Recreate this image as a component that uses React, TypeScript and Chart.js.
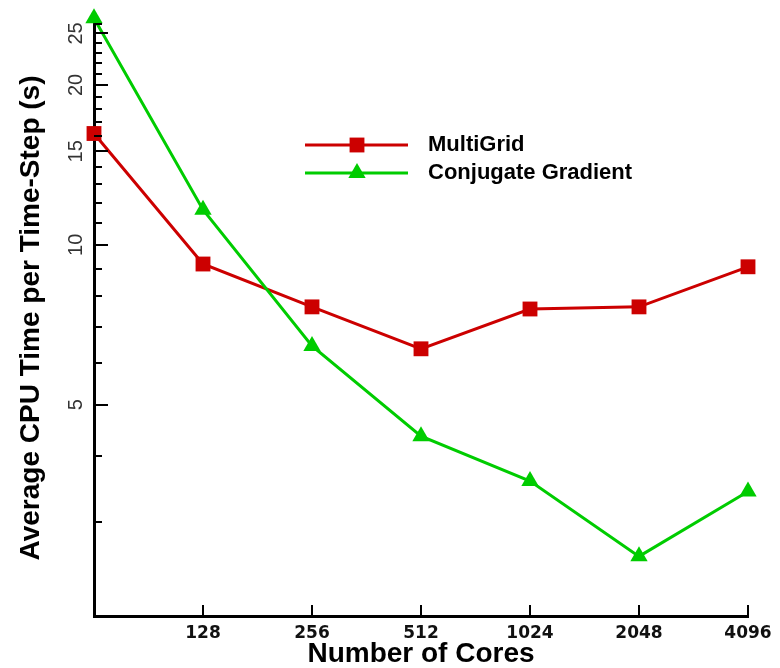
import React, { useEffect, useRef } from 'react';
import { Chart, registerables } from 'chart.js';

Chart.register(...registerables);

const cores = [64, 128, 256, 512, 1024, 2048, 4096];
const multiGrid = [16.2, 9.2, 7.64, 6.37, 7.57, 7.64, 9.09];
const conjugateGradient = [26.7, 11.64, 6.45, 4.36, 3.59, 2.59, 3.43];
const seriesNames = ['MultiGrid', 'Conjugate Gradient'];
const seriesColors = ['#cc0000', '#00cc00'];
const xTickValues = [128, 256, 512, 1024, 2048, 4096];
const yMajorTicks = [5, 10, 15, 20, 25];
const yMinorTicks = [3, 4, 6, 7, 8, 9, 11, 12, 13, 14, 16, 17, 18, 19, 21, 22, 23, 24, 26];
const xTitle = 'Number of Cores';
const yTitle = 'Average CPU Time per Time-Step (s)';

const tickMarkPlugin = {
  id: 'inwardTicks',
  afterDraw(chart: any) {
    const ctx = chart.ctx;
    const xs = chart.scales.x;
    const ys = chart.scales.y;
    const { left, bottom } = chart.chartArea;
    ctx.save();
    ctx.strokeStyle = '#000';
    ctx.lineWidth = 2;
    ctx.beginPath();
    yMinorTicks.forEach((v) => {
      const py = Math.round(ys.getPixelForValue(v));
      ctx.moveTo(left, py);
      ctx.lineTo(left + 8, py);
    });
    yMajorTicks.forEach((v) => {
      const py = Math.round(ys.getPixelForValue(v));
      ctx.moveTo(left, py);
      ctx.lineTo(left + 14, py);
    });
    xTickValues.forEach((v) => {
      const px = Math.round(xs.getPixelForValue(v));
      ctx.moveTo(px, bottom);
      ctx.lineTo(px, bottom - 11);
    });
    ctx.stroke();
    ctx.restore();
  },
};

const legendPlugin = {
  id: 'inlineLegend',
  afterDraw(chart: any) {
    const ctx = chart.ctx;
    const rows = [145, 173];
    ctx.save();
    chart.data.datasets.forEach((ds: any, i: number) => {
      const y = rows[i];
      ctx.strokeStyle = ds.borderColor;
      ctx.lineWidth = 3;
      ctx.beginPath();
      ctx.moveTo(305, y);
      ctx.lineTo(408, y);
      ctx.stroke();
      ctx.fillStyle = ds.pointBackgroundColor;
      ctx.beginPath();
      const cx = 357;
      if (ds.pointStyle === 'rect') {
        const s = Math.SQRT1_2 * ds.pointRadius;
        ctx.rect(cx - s, y - s, 2 * s, 2 * s);
      } else {
        const r = ds.pointRadius;
        let rad = 0;
        ctx.moveTo(cx + Math.sin(rad) * r, y - Math.cos(rad) * r);
        rad += (2 * Math.PI) / 3;
        ctx.lineTo(cx + Math.sin(rad) * r, y - Math.cos(rad) * r);
        rad += (2 * Math.PI) / 3;
        ctx.lineTo(cx + Math.sin(rad) * r, y - Math.cos(rad) * r);
        ctx.closePath();
      }
      ctx.fill();
      ctx.fillStyle = '#000';
      ctx.font = 'bold 22px "Liberation Sans", Arial, sans-serif';
      ctx.textBaseline = 'middle';
      ctx.textAlign = 'left';
      ctx.fillText(ds.label, 428, y);
    });
    ctx.restore();
  },
};

export default function App() {
  const ref = useRef<HTMLCanvasElement | null>(null);

  useEffect(() => {
    document.body.style.margin = '0';
    if (!ref.current) return;
    const chart = new Chart(ref.current, {
      type: 'line',
      data: {
        datasets: [
          {
            label: seriesNames[0],
            data: cores.map((c, i) => ({ x: c, y: multiGrid[i] })),
            borderColor: seriesColors[0],
            backgroundColor: seriesColors[0],
            pointBackgroundColor: seriesColors[0],
            pointBorderColor: seriesColors[0],
            pointBorderWidth: 0,
            borderWidth: 3,
            pointStyle: 'rect',
            pointRadius: 10.5,
            tension: 0,
            clip: false,
            order: 1,
          } as any,
          {
            label: seriesNames[1],
            data: cores.map((c, i) => ({ x: c, y: conjugateGradient[i] })),
            borderColor: seriesColors[1],
            backgroundColor: seriesColors[1],
            pointBackgroundColor: seriesColors[1],
            pointBorderColor: seriesColors[1],
            pointBorderWidth: 0,
            borderWidth: 3,
            pointStyle: 'triangle',
            pointRadius: 10,
            tension: 0,
            clip: false,
            order: 0,
          } as any,
        ],
      },
      options: {
        animation: false,
        responsive: false,
        devicePixelRatio: 1,
        events: [],
        layout: { padding: { left: 0, right: 32, top: 20, bottom: 0 } },
        plugins: {
          legend: { display: false },
          tooltip: { enabled: false },
        },
        scales: {
          x: {
            type: 'logarithmic',
            min: 64,
            max: 4096,
            z: 1,
            border: { display: true, color: '#000', width: 3 },
            grid: { display: false, drawOnChartArea: false, drawTicks: false },
            ticks: {
              padding: 7,
              color: '#111',
              autoSkip: false,
              maxRotation: 0,
              minRotation: 0,
              font: { family: '"DejaVu Sans", sans-serif', size: 17, weight: 'bold' },
              callback: (v: any) => String(v),
            },
            afterBuildTicks: (scale: any) => {
              scale.ticks = xTickValues.map((v) => ({ value: v }));
            },
            afterFit: (scale: any) => {
              scale.height = 52;
              scale.paddingLeft = 0;
              scale.paddingRight = 0;
            },
            title: {
              display: true,
              text: xTitle,
              color: '#000',
              font: { family: '"Liberation Sans", Arial, sans-serif', size: 28, weight: 'bold', lineHeight: 1 },
              padding: { top: 0, bottom: 0 },
            },
          },
          y: {
            type: 'logarithmic',
            min: 2,
            max: 26.5,
            z: 1,
            border: { display: true, color: '#000', width: 3 },
            grid: { display: false, drawOnChartArea: false, drawTicks: false },
            ticks: {
              padding: 6,
              crossAlign: 'center',
              minRotation: 90,
              maxRotation: 90,
              autoSkip: false,
              color: '#333',
              font: { family: '"Liberation Sans", Arial, sans-serif', size: 20, weight: 'normal' },
              callback: (v: any) => String(v),
            },
            afterBuildTicks: (scale: any) => {
              scale.ticks = yMajorTicks.map((v) => ({ value: v }));
            },
            afterFit: (scale: any) => {
              scale.width = 94;
              scale.paddingTop = 0;
              scale.paddingBottom = 0;
            },
            title: {
              display: true,
              text: yTitle,
              color: '#000',
              font: { family: '"Liberation Sans", Arial, sans-serif', size: 28, weight: 'bold', lineHeight: 1 },
              padding: { top: 17, bottom: 0 },
            },
          },
        },
      } as any,
      plugins: [tickMarkPlugin, legendPlugin],
    });
    return () => chart.destroy();
  }, []);

  return (
    <div style={{ width: 780, height: 668 }}>
      <canvas ref={ref} width={780} height={668} style={{ display: 'block', width: 780, height: 668 }} />
    </div>
  );
}
